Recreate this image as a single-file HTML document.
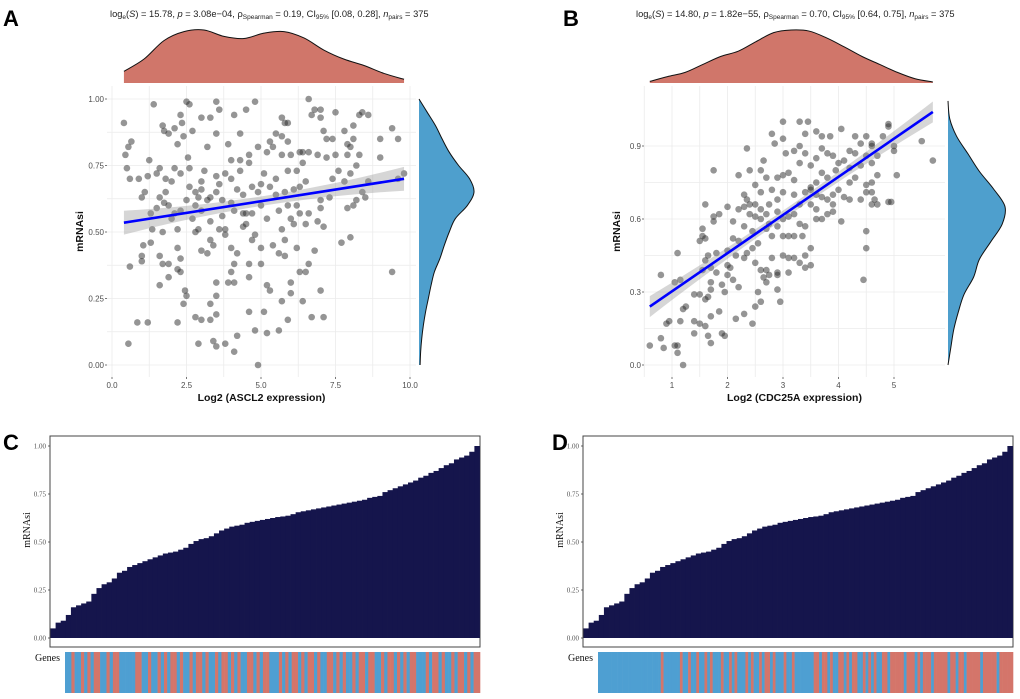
<!DOCTYPE html>
<html><head><meta charset="utf-8"><style>
html,body{margin:0;padding:0;background:#fff;}
svg{display:block;font-family:"Liberation Sans",Arial,sans-serif;}
</style></head><body>
<svg id="fig" width="1020" height="699" viewBox="0 0 1020 699" xmlns="http://www.w3.org/2000/svg">
<g id="gA"></g>
<g id="gB"></g>
<g id="gC"></g>
<g id="gD"></g>
</svg>
<script>
// ---------- DATA ----------
const aPoints = [[0.4,0.91],[0.45,0.79],[0.5,0.74],[0.55,0.82],[0.65,0.84],[0.6,0.70],[0.9,0.70],[1.0,0.63],[1.1,0.65],[1.2,0.71],[1.25,0.77],[1.4,0.98],[1.5,0.59],[1.3,0.57],[1.35,0.51],[1.3,0.46],[1.05,0.45],[1.0,0.41],[1.0,0.39],[0.6,0.37],[0.85,0.16],[1.2,0.16],[0.55,0.08],[1.6,0.74],[1.7,0.90],[1.75,0.88],[1.9,0.87],[2.1,0.89],[2.2,0.83],[2.3,0.94],[2.35,0.91],[2.4,0.86],[2.5,0.99],[2.6,0.98],[2.7,0.88],[2.55,0.78],[2.1,0.74],[2.3,0.72],[2.0,0.69],[1.8,0.70],[1.6,0.63],[1.75,0.61],[1.9,0.60],[2.1,0.57],[2.3,0.58],[2.5,0.62],[2.6,0.67],[2.8,0.65],[2.9,0.63],[3.0,0.69],[3.1,0.73],[3.2,0.62],[1.7,0.50],[1.6,0.41],[1.7,0.38],[1.9,0.38],[1.9,0.33],[1.6,0.30],[2.2,0.44],[2.3,0.40],[2.2,0.36],[2.3,0.35],[2.45,0.28],[2.5,0.26],[2.4,0.23],[2.2,0.16],[2.8,0.18],[3.0,0.17],[3.3,0.17],[3.5,0.19],[2.9,0.08],[3.4,0.09],[3.5,0.07],[3.8,0.08],[4.1,0.05],[4.2,0.11],[4.9,0.00],[4.8,0.13],[5.2,0.12],[5.6,0.13],[5.9,0.17],[4.6,0.20],[5.1,0.20],[5.7,0.24],[3.3,0.23],[3.5,0.26],[3.5,0.31],[3.9,0.31],[4.1,0.31],[4.0,0.35],[4.1,0.38],[4.2,0.42],[4.0,0.44],[3.4,0.45],[3.3,0.47],[3.2,0.42],[3.0,0.43],[2.8,0.50],[2.9,0.51],[3.3,0.54],[3.6,0.51],[3.8,0.51],[3.8,0.49],[4.4,0.52],[4.5,0.53],[4.7,0.47],[4.8,0.49],[4.6,0.38],[4.6,0.33],[5.0,0.38],[5.0,0.44],[5.4,0.45],[5.2,0.30],[5.3,0.28],[5.6,0.42],[5.8,0.41],[5.8,0.47],[6.0,0.31],[6.0,0.27],[6.2,0.44],[6.3,0.35],[6.5,0.35],[6.6,0.38],[6.4,0.24],[6.7,0.18],[7.0,0.28],[7.1,0.18],[6.8,0.43],[6.9,0.54],[7.1,0.52],[7.0,0.59],[6.6,0.57],[6.5,0.53],[6.3,0.57],[6.1,0.53],[6.0,0.55],[5.9,0.60],[6.2,0.60],[5.6,0.58],[5.7,0.51],[5.2,0.55],[5.0,0.60],[4.7,0.57],[4.5,0.57],[4.4,0.64],[4.2,0.66],[4.0,0.61],[3.7,0.62],[3.5,0.65],[3.5,0.71],[3.6,0.68],[3.8,0.72],[4.0,0.70],[4.3,0.73],[4.6,0.76],[4.6,0.79],[4.3,0.77],[4.0,0.77],[3.9,0.83],[3.5,0.87],[3.2,0.82],[3.0,0.93],[3.3,0.93],[3.6,0.96],[3.5,0.99],[4.1,0.94],[4.3,0.87],[4.5,0.96],[4.8,0.99],[4.9,0.82],[5.2,0.80],[5.3,0.84],[5.4,0.82],[5.5,0.87],[5.7,0.93],[5.8,0.91],[5.9,0.91],[5.7,0.86],[5.9,0.84],[5.7,0.79],[6.0,0.79],[6.3,0.80],[6.4,0.76],[6.6,0.80],[6.6,1.00],[6.7,0.94],[6.8,0.96],[7.0,0.96],[7.0,0.93],[7.1,0.88],[7.2,0.85],[6.9,0.79],[7.2,0.78],[7.5,0.79],[7.4,0.85],[7.5,0.95],[7.8,0.88],[7.9,0.83],[7.9,0.79],[8.0,0.82],[8.1,0.90],[8.1,0.85],[8.3,0.94],[8.4,0.95],[8.6,0.94],[8.3,0.79],[8.2,0.75],[8.0,0.72],[7.8,0.69],[7.6,0.73],[7.4,0.70],[7.3,0.63],[7.0,0.62],[7.7,0.46],[8.0,0.48],[8.1,0.60],[8.2,0.62],[8.4,0.65],[8.5,0.63],[8.6,0.69],[9.0,0.85],[9.0,0.78],[9.4,0.89],[9.6,0.85],[9.6,0.70],[9.8,0.72],[9.4,0.35],[7.9,0.59],[5.3,0.67],[5.5,0.70],[5.1,0.72],[4.9,0.65],[4.7,0.67],[5.0,0.68],[5.5,0.64],[5.8,0.65],[6.1,0.66],[6.3,0.67],[6.5,0.69],[6.2,0.73],[5.9,0.73],[6.4,0.80],[2.7,0.55],[2.2,0.51],[2.0,0.55],[1.8,0.65],[1.5,0.72],[2.6,0.74],[2.8,0.60],[3.0,0.58],[3.3,0.63],[3.0,0.66],[3.7,0.56],[4.1,0.58],[4.4,0.57]];
const bPoints = [[0.6,0.08],[0.8,0.11],[0.85,0.07],[0.9,0.17],[0.95,0.18],[1.05,0.08],[1.1,0.08],[1.1,0.05],[1.2,0.00],[1.15,0.18],[1.2,0.23],[1.25,0.24],[0.8,0.37],[1.05,0.34],[1.15,0.35],[1.1,0.46],[1.4,0.18],[1.5,0.17],[1.4,0.13],[1.6,0.16],[1.65,0.12],[1.7,0.09],[1.9,0.13],[1.7,0.20],[1.85,0.22],[1.4,0.29],[1.5,0.29],[1.6,0.27],[1.65,0.28],[1.7,0.31],[1.7,0.34],[1.55,0.39],[1.6,0.43],[1.7,0.40],[1.8,0.38],[1.65,0.45],[1.8,0.46],[1.9,0.33],[1.95,0.30],[2.0,0.37],[2.05,0.40],[2.1,0.35],[1.5,0.51],[1.55,0.53],[1.6,0.52],[1.55,0.56],[1.75,0.61],[1.75,0.59],[1.6,0.66],[1.75,0.80],[1.85,0.62],[2.0,0.65],[2.1,0.59],[2.1,0.52],[2.2,0.64],[2.3,0.65],[2.3,0.70],[2.35,0.68],[2.2,0.78],[2.35,0.89],[2.4,0.80],[2.5,0.74],[2.6,0.80],[2.65,0.84],[2.7,0.77],[2.6,0.71],[2.5,0.66],[2.4,0.62],[2.5,0.61],[2.6,0.60],[2.3,0.57],[2.45,0.55],[2.55,0.50],[2.2,0.51],[2.0,0.47],[2.0,0.41],[2.15,0.45],[2.3,0.44],[2.35,0.46],[2.45,0.48],[2.5,0.42],[2.6,0.39],[2.7,0.39],[2.75,0.37],[2.8,0.44],[2.9,0.37],[2.65,0.36],[2.55,0.30],[2.6,0.26],[2.7,0.34],[2.2,0.32],[2.3,0.21],[2.45,0.17],[2.15,0.19],[1.95,0.12],[2.5,0.24],[2.9,0.31],[2.95,0.26],[2.9,0.38],[3.1,0.38],[3.0,0.45],[3.1,0.44],[3.2,0.44],[3.3,0.42],[3.4,0.40],[3.5,0.41],[3.4,0.45],[3.0,0.53],[3.1,0.53],[3.2,0.53],[3.35,0.53],[3.5,0.48],[2.8,0.53],[2.7,0.56],[2.9,0.57],[3.0,0.60],[3.1,0.61],[3.2,0.62],[3.3,0.58],[3.4,0.57],[3.6,0.60],[3.7,0.60],[3.8,0.62],[3.9,0.63],[4.05,0.59],[3.6,0.64],[3.5,0.66],[3.3,0.66],[3.2,0.70],[3.0,0.71],[2.9,0.68],[2.75,0.66],[2.8,0.72],[2.9,0.77],[3.0,0.78],[3.1,0.79],[3.2,0.76],[3.4,0.71],[3.5,0.72],[3.6,0.70],[3.7,0.69],[3.8,0.68],[3.9,0.70],[4.0,0.72],[4.1,0.69],[4.2,0.68],[4.4,0.68],[4.5,0.71],[4.6,0.71],[4.5,0.74],[4.6,0.66],[4.7,0.66],[4.65,0.68],[4.9,0.67],[3.6,0.75],[3.7,0.79],[3.8,0.77],[3.95,0.80],[4.0,0.83],[4.1,0.84],[3.9,0.86],[3.8,0.87],[3.7,0.89],[3.6,0.85],[3.5,0.82],[3.4,0.87],[3.3,0.90],[3.2,0.88],[3.0,0.93],[3.05,0.87],[2.85,0.91],[2.8,0.95],[3.0,1.00],[3.3,1.00],[3.45,1.00],[3.4,0.95],[3.6,0.96],[3.7,0.94],[3.85,0.94],[4.05,0.97],[4.3,0.94],[4.2,0.88],[4.3,0.87],[4.4,0.91],[4.5,0.94],[4.6,0.90],[4.5,0.86],[4.6,0.83],[4.7,0.86],[4.4,0.82],[4.2,0.81],[4.9,0.99],[4.9,0.98],[4.8,0.94],[5.0,0.90],[5.0,0.88],[5.05,0.78],[4.95,0.67],[4.45,0.35],[4.5,0.55],[4.5,0.48],[5.5,0.92],[5.7,0.84],[4.6,0.91],[4.7,0.78],[4.6,0.75],[4.3,0.77],[4.2,0.75],[3.3,0.83],[3.5,0.73],[3.9,0.66],[2.9,0.63],[2.7,0.62],[2.6,0.64],[2.4,0.66],[2.75,0.58]];
const aFit = [0.4, 9.8, 0.535, 0.70];   // x0, x1, y0, y1
const bFit = [0.6, 5.7, 0.24, 1.04];
const aTopDensity = [0.22,0.45,0.8,0.97,1.0,0.88,0.84,0.94,0.97,0.85,0.62,0.45,0.33,0.18,0.07];
const aRightDensity = [0.02,0.03,0.05,0.08,0.12,0.17,0.22,0.28,0.38,0.46,0.55,0.66,0.88,1.0,0.92,0.72,0.55,0.42,0.3,0.15,0.0];
const bTopDensity = [0.03,0.12,0.2,0.35,0.5,0.6,0.78,0.95,1.0,0.98,0.85,0.68,0.5,0.35,0.2,0.08,0.02];
const bRightDensity = [0.0,0.05,0.1,0.18,0.28,0.45,0.55,0.75,0.95,1.0,0.8,0.55,0.35,0.15,0.03,0.0];
const aXTicks = ["0.0","2.5","5.0","7.5","10.0"];
const aYTicks = ["0.00","0.25","0.50","0.75","1.00"];
const bXTicks = ["1","2","3","4","5"];
const bYTicks = ["0.0","0.3","0.6","0.9"];
const sortedMRNAsi = [0.05,0.08,0.09,0.12,0.16,0.17,0.18,0.19,0.23,0.26,0.28,0.29,0.31,0.34,0.35,0.37,0.38,0.39,0.40,0.41,0.42,0.43,0.44,0.445,0.45,0.46,0.47,0.49,0.505,0.515,0.52,0.53,0.545,0.56,0.57,0.58,0.585,0.59,0.60,0.605,0.61,0.615,0.62,0.625,0.63,0.633,0.637,0.645,0.655,0.66,0.665,0.67,0.675,0.68,0.685,0.69,0.695,0.70,0.705,0.71,0.715,0.72,0.73,0.735,0.74,0.76,0.77,0.78,0.79,0.80,0.81,0.82,0.835,0.845,0.86,0.87,0.885,0.90,0.91,0.93,0.94,0.95,0.97,1.00];
const barYTicks = ["0.00","0.25","0.50","0.75","1.00"];
const cGenes = "bbrbbrbrbrrbbrbrrbbbbbrrbbrbbrbrbrrbrbbrbrrbrbbrbrrbrbrbbrrbrbrrbbbrbrbrrbrbrrbrbbrrbrbrbbrbrrbrrbbrbrrbrbrbrrbbbrbrrbrbbrbrrbrbrr".split("");
const dGenes = "bbbbbbbbbbbbbbbbbbbbbbbrbbbbbbrbbrbbrbbrbrbbbrbbrbrbbbrbrbbrbrrbrbbbrbbrbbbbbbbrrbrrbrbbrrbrbrrbbrbrbrbbrrbrrrrrbrrrbrbrrrbrrrrrbrrbrrbrrrrrbrrrrrbrrrrr".split("");

// ---------- HELPERS ----------
const NS = "http://www.w3.org/2000/svg";
function mk(parent, tag, attrs, text){
  const e = document.createElementNS(NS, tag);
  for (const k in attrs) e.setAttribute(k, attrs[k]);
  if (text !== undefined) e.textContent = text;
  parent.appendChild(e);
  return e;
}
function smoothPath(pts){
  let d = "M" + pts[0][0] + "," + pts[0][1];
  for (let i=0;i<pts.length-1;i++){
    const p0=pts[Math.max(0,i-1)], p1=pts[i], p2=pts[i+1], p3=pts[Math.min(pts.length-1,i+2)];
    const c1=[p1[0]+(p2[0]-p0[0])/6, p1[1]+(p2[1]-p0[1])/6];
    const c2=[p2[0]-(p3[0]-p1[0])/6, p2[1]-(p3[1]-p1[1])/6];
    d += " C"+c1[0]+","+c1[1]+" "+c2[0]+","+c2[1]+" "+p2[0]+","+p2[1];
  }
  return d;
}

function scatterPanel(g, cfg){
  const sx = v => cfg.px0 + (v - cfg.x0)/(cfg.x1 - cfg.x0)*(cfg.px1 - cfg.px0);
  const sy = v => cfg.py0 - (v - cfg.y0)/(cfg.y1 - cfg.y0)*(cfg.py0 - cfg.py1);
  // label
  const lab = mk(g,"text",{x:cfg.labX,y:26,"font-size":22,"font-weight":"bold",fill:"#000"},cfg.label);
  
  
  // title
  const t = mk(g,"text",{x:cfg.titleX,y:17,"font-size":9.3,fill:"#222"});
  
  
  const parts = cfg.title;
  parts.forEach(p=>{
    const ts = mk(t,"tspan",p.sub?{"font-size":6.5,dy:2}:(p.up?{dy:-2}:{}),p.t);
    if (p.i) ts.setAttribute("font-style","italic");
  });
  // grid
  const grid = mk(g,"g",{});
  
  
  for (let v=cfg.gxStart; v<=cfg.x1+1e-9; v+=cfg.gxStep){
    const x=sx(v); if (x<cfg.bl||x>cfg.br) continue;
    mk(grid,"line",{x1:x,x2:x,y1:cfg.bt,y2:cfg.bb,stroke:"#ebebeb","stroke-width":0.8});
  }
  for (let v=cfg.gyStart; v<=cfg.y1+1e-9; v+=cfg.gyStep){
    const y=sy(v); if (y<cfg.bt||y>cfg.bb) continue;
    mk(grid,"line",{x1:cfg.bl,x2:cfg.br,y1:y,y2:y,stroke:"#ebebeb","stroke-width":0.8});
  }
  // ticks
  cfg.xTicks.forEach(s=>{
    const v=parseFloat(s), x=sx(v);
    mk(g,"line",{x1:x,x2:x,y1:cfg.bb,y2:cfg.bb+2,stroke:"#555","stroke-width":0.8});
    const tx=mk(g,"text",{x:x,y:cfg.bb+11,"font-size":8,fill:"#4d4d4d","text-anchor":"middle"},s);
    
    
  });
  cfg.yTicks.forEach(s=>{
    const v=parseFloat(s), y=sy(v);
    mk(g,"line",{x1:cfg.bl-2,x2:cfg.bl,y1:y,y2:y,stroke:"#555","stroke-width":0.8});
    const ty=mk(g,"text",{x:cfg.bl-3,y:y+3,"font-size":8,fill:"#4d4d4d","text-anchor":"end"},s);
    
    
  });
  const xt=mk(g,"text",{x:(cfg.bl+cfg.br)/2,y:cfg.bb+24,"font-size":10.5,"font-weight":"bold",fill:"#111","text-anchor":"middle"},cfg.xTitle);
  
  
  const yx=cfg.bl-24, yy=(cfg.bt+cfg.bb)/2;
  const yt=mk(g,"text",{x:yx,y:yy,"font-size":10.5,"font-weight":"bold",fill:"#111","text-anchor":"middle",transform:"rotate(-90 "+yx+" "+yy+")"},"mRNAsi");
  
  
  // points
  const pg=mk(g,"g",{});
  
  
  cfg.points.forEach(p=>{
    const c=mk(pg,"circle",{cx:sx(p[0]),cy:sy(p[1]),r:3.3,fill:"#2b2b2b","fill-opacity":0.5});
    
    
  });
  // CI band + line
  const f=cfg.fit, n=20, up=[], lo=[];
  const xm=(f[0]+f[1])/2;
  for(let i=0;i<=n;i++){
    const xv=f[0]+(f[1]-f[0])*i/n, yv=f[2]+(f[3]-f[2])*i/n;
    const w=cfg.ci0 + cfg.ci1*Math.pow((xv-xm)/((f[1]-f[0])/2),2);
    up.push([sx(xv),sy(yv+w)]); lo.push([sx(xv),sy(yv-w)]);
  }
  const band=mk(g,"path",{d:"M"+up.map(p=>p.join(",")).join(" L")+" L"+lo.reverse().map(p=>p.join(",")).join(" L")+"Z",fill:"#999","fill-opacity":0.4});
  
  
  const ln=mk(g,"line",{x1:sx(f[0]),y1:sy(f[2]),x2:sx(f[1]),y2:sy(f[3]),stroke:"#0000ff","stroke-width":2.6});
  
  
  // top density
  const td=cfg.topDens, tp=[];
  td.forEach((v,i)=>{ const xv=cfg.dx0+(cfg.dx1-cfg.dx0)*i/(td.length-1); tp.push([sx(xv), cfg.tdBase - v*cfg.tdH]); });
  const tpath=mk(g,"path",{d:smoothPath(tp)+" L"+tp[tp.length-1][0]+","+cfg.tdBase+" L"+tp[0][0]+","+cfg.tdBase+"Z",fill:"#d0766a"});
  
  
  mk(g,"path",{d:smoothPath(tp),fill:"none",stroke:"#111","stroke-width":1});
  // right density
  const rd=cfg.rightDens, rp=[];
  rd.forEach((v,i)=>{ const yv=cfg.ry0+(cfg.ry1-cfg.ry0)*i/(rd.length-1); rp.push([cfg.rdBase + v*cfg.rdW, sy(yv)]); });
  const rpath=mk(g,"path",{d:smoothPath(rp)+" L"+cfg.rdBase+","+rp[rp.length-1][1]+" L"+cfg.rdBase+","+rp[0][1]+"Z",fill:"#4e9fcd"});
  
  
  mk(g,"path",{d:smoothPath(rp),fill:"none",stroke:"#111","stroke-width":1});
}

scatterPanel(document.getElementById("gA"),{
  label:"A", labX:3, titleX:110,
  title:[{t:"log"},{t:"e",sub:1},{t:"(",up:1},{t:"S",i:1},{t:") = 15.78, "},{t:"p",i:1},{t:" = 3.08e−04, ρ"},{t:"Spearman",sub:1},{t:" = 0.19, CI",up:1},{t:"95%",sub:1},{t:" [0.08, 0.28], ",up:1},{t:"n",i:1},{t:"pairs",sub:1},{t:" = 375",up:1}],
  x0:0,x1:10,px0:112,px1:410, y0:0,y1:1,py0:365,py1:99,
  bl:107,br:416,bt:86,bb:377, gxStart:0,gxStep:1.25, gyStart:0,gyStep:0.125,
  xTicks:aXTicks,yTicks:aYTicks, xTitle:"Log2 (ASCL2 expression)",
  points:aPoints, fit:aFit, ci0:0.018, ci1:0.027,
  topDens:aTopDensity, dx0:0.4, dx1:9.8, tdBase:83, tdH:53,
  rightDens:aRightDensity, ry0:0, ry1:1, rdBase:419, rdW:55
});
scatterPanel(document.getElementById("gB"),{
  label:"B", labX:563, titleX:636,
  title:[{t:"log"},{t:"e",sub:1},{t:"(",up:1},{t:"S",i:1},{t:") = 14.80, "},{t:"p",i:1},{t:" = 1.82e−55, ρ"},{t:"Spearman",sub:1},{t:" = 0.70, CI",up:1},{t:"95%",sub:1},{t:" [0.64, 0.75], ",up:1},{t:"n",i:1},{t:"pairs",sub:1},{t:" = 375",up:1}],
  x0:1,x1:5,px0:672,px1:894, y0:0,y1:0.9,py0:365,py1:146,
  bl:644,br:945,bt:86,bb:377, gxStart:0.5,gxStep:0.5, gyStart:0,gyStep:0.15,
  xTicks:bXTicks,yTicks:bYTicks, xTitle:"Log2 (CDC25A expression)",
  points:bPoints, fit:bFit, ci0:0.018, ci1:0.025,
  topDens:bTopDensity, dx0:0.6, dx1:5.7, tdBase:83, tdH:53,
  rightDens:bRightDensity, ry0:0, ry1:1.085, rdBase:948, rdW:57
});

function barPanel(g, cfg){
  const bl=cfg.bl, br=cfg.bl+430, bt=436, bb=647;
  const sy = v => 638 - v*192;
  const lab=mk(g,"text",{x:cfg.labX,y:450,"font-size":22,"font-weight":"bold",fill:"#000"},cfg.label);
  
  
  const frame=mk(g,"rect",{x:bl,y:bt,width:430,height:bb-bt,fill:"#fff",stroke:"#444","stroke-width":1});
  
  
  const n=sortedMRNAsi.length, w=(430-1)/n;
  const bars=mk(g,"g",{});
  
  
  sortedMRNAsi.forEach((v,i)=>{
    const r=mk(bars,"rect",{x:bl+0.5+i*w,y:sy(v),width:w+0.4,height:638-sy(v),fill:"#15154c"});
    
    
  });
  barYTicks.forEach(s=>{
    const y=sy(parseFloat(s));
    mk(g,"line",{x1:bl-2,x2:bl,y1:y,y2:y,stroke:"#444","stroke-width":0.8});
    const t=mk(g,"text",{x:bl-4,y:y+2.5,"font-size":7,fill:"#555","text-anchor":"end","font-family":"Liberation Serif,serif"},s);
    
    
  });
  const yx=bl-20, yy=530;
  const yt=mk(g,"text",{x:yx,y:yy,"font-size":10,fill:"#111","text-anchor":"middle","font-family":"Liberation Serif,serif",transform:"rotate(-90 "+yx+" "+yy+")"},"mRNAsi");
  
  
  const gl=mk(g,"text",{x:bl+10,y:661,"font-size":10,fill:"#111","text-anchor":"end","font-family":"Liberation Serif,serif"},"Genes");
  
  
  const sx0=bl+15, sw=415, gn=cfg.genes.length, gw=sw/gn;
  const strip=mk(g,"g",{});
  
  
  cfg.genes.forEach((c,i)=>{
    const r=mk(strip,"rect",{x:sx0+i*gw,y:652,width:gw+0.3,height:41,fill:c==="r"?"#d4756a":"#4e9fd2"});
    
    
  });
}
barPanel(document.getElementById("gC"),{label:"C",labX:3,bl:50,genes:cGenes});
barPanel(document.getElementById("gD"),{label:"D",labX:552,bl:583,genes:dGenes});
</script>
</body></html>
